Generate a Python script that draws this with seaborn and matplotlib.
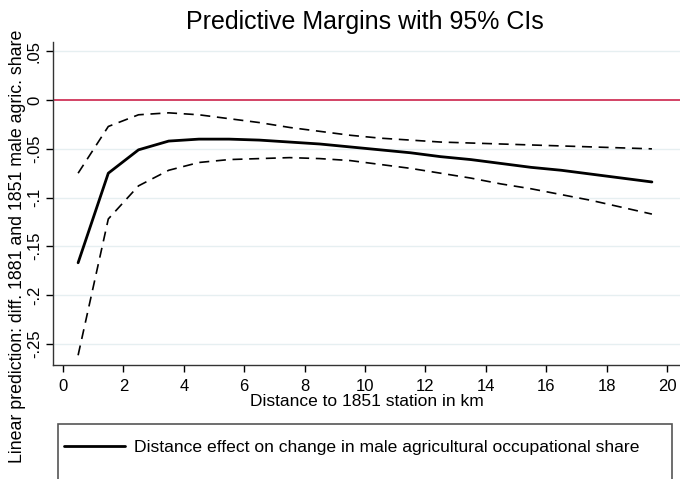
import matplotlib
matplotlib.use("Agg")
import matplotlib.pyplot as plt
import seaborn as sns
import pandas as pd
from matplotlib.patches import Rectangle

# distance bins (km) and predictive margins
distance = [0.5, 1.5, 2.5, 3.5, 4.5, 5.5, 6.5, 7.5, 8.5, 9.5,
            10.5, 11.5, 12.5, 13.5, 14.5, 15.5, 16.5, 17.5, 18.5, 19.5]
margin = [-0.167, -0.075, -0.051, -0.042, -0.040, -0.040, -0.041, -0.043, -0.045, -0.048,
          -0.051, -0.054, -0.058, -0.061, -0.065, -0.069, -0.072, -0.076, -0.080, -0.084]
ci_upper = [-0.075, -0.027, -0.015, -0.013, -0.015, -0.019, -0.023, -0.028, -0.032, -0.036,
            -0.039, -0.041, -0.043, -0.044, -0.045, -0.046, -0.047, -0.048, -0.049, -0.050]
ci_lower = [-0.262, -0.122, -0.088, -0.072, -0.064, -0.061, -0.060, -0.059, -0.060, -0.062,
            -0.066, -0.070, -0.075, -0.080, -0.086, -0.091, -0.097, -0.103, -0.110, -0.117]

x_ticks = list(range(0, 21, 2))
y_ticks = [-0.25, -0.2, -0.15, -0.1, -0.05, 0, 0.05]
y_tick_labels = ["-.25", "-.2", "-.15", "-.1", "-.05", "0", ".05"]

df = pd.DataFrame({"distance": distance, "margin": margin,
                   "upper": ci_upper, "lower": ci_lower})

sns.set_theme(style="white")
plt.rcParams["font.family"] = ["Liberation Sans", "DejaVu Sans"]
plt.rcParams["text.color"] = "black"
plt.rcParams["axes.labelcolor"] = "black"
plt.rcParams["xtick.color"] = "black"
plt.rcParams["ytick.color"] = "black"

fig = plt.figure(figsize=(6.8, 4.79), dpi=100)
ax = fig.add_axes([0.078, 0.238, 0.922, 0.674])

for yv in [-0.25, -0.2, -0.15, -0.1, -0.05, 0.05]:
    ax.axhline(yv, color="#e6eff1", lw=1, zorder=0)
ax.axhline(0, color="#c8103c", lw=1.1, zorder=1)

sns.lineplot(data=df, x="distance", y="upper", ax=ax, color="black", lw=1.2,
             linestyle=(0, (6, 4)), legend=False)
sns.lineplot(data=df, x="distance", y="lower", ax=ax, color="black", lw=1.2,
             linestyle=(0, (6, 4)), legend=False)
sns.lineplot(data=df, x="distance", y="margin", ax=ax, color="black", lw=2,
             label="Distance effect on change in male agricultural occupational share")

ax.set_xlim(-0.33, 20.43)
ax.set_ylim(-0.272, 0.0596)
ax.set_xticks(x_ticks)
ax.set_yticks(y_ticks)
ax.set_yticklabels(y_tick_labels, rotation=90, va="center")
ax.tick_params(axis="both", direction="out", length=5, width=1,
               labelsize=12, bottom=True, left=True)
ax.tick_params(axis="x", pad=5)
ax.tick_params(axis="y", pad=3)
for side in ["top", "right"]:
    ax.spines[side].set_visible(False)
for side in ["left", "bottom"]:
    ax.spines[side].set_color("#333333")
    ax.spines[side].set_linewidth(1)

ax.set_xlabel("Distance to 1851 station in km", fontsize=12.5, labelpad=0)
ax.set_ylabel("")
fig.text(0.026, 0.486, "Linear prediction: diff. 1881 and 1851 male agric. share",
         rotation=90, ha="center", va="center", fontsize=12.75)
fig.text(0.537, 0.954, "Predictive Margins with 95% CIs", ha="center", va="center",
         fontsize=18)

# legend box running off the bottom edge
fig.patches.append(Rectangle((58 / 680, -0.1), (672 - 58) / 680, 1 - 424 / 479 + 0.1,
                             transform=fig.transFigure, fill=False,
                             edgecolor="#555555", lw=1.2))
ax.legend(loc="center left", bbox_to_anchor=(58 / 680, 1 - 447 / 479),
          bbox_transform=fig.transFigure, frameon=False, fontsize=12.6,
          handlelength=3.5, handletextpad=0.5, borderaxespad=0, borderpad=0.35)

fig.savefig("out.png", dpi=100)
